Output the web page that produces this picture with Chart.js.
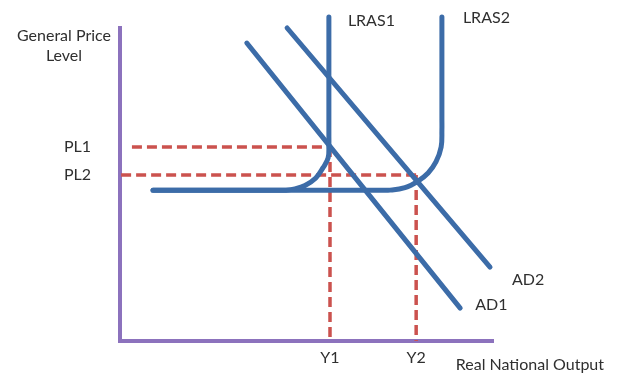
<!DOCTYPE html>
<html><head><meta charset="utf-8">
<script src="https://cdn.jsdelivr.net/npm/chart.js@4"></script>
<style>html,body{margin:0;padding:0;background:#fff}#wrap{width:619px;height:374px;position:relative}</style>
</head><body><div id="wrap"><canvas id="c"></canvas></div>
<script>
// Curves (x: real output, y: price level, 0-100 scale)
const lras1X = [8.85, 41.8, 44.5, 46.9, 49.6, 52.5, 54.4, 55.8, 56.0, 56.0, 56.0];
const lras1Y = [48.2, 48.2, 48.2, 48.6, 49.7, 52.1, 55.3, 58.5, 62.6, 65.8, 103.5];
const lras2X = [8.85, 69.2, 72.4, 76.4, 79.9, 82.6, 84.7, 86.1, 86.3, 86.3, 86.3];
const lras2Y = [48.2, 48.2, 48.2, 49.0, 51.1, 53.7, 57.2, 62.0, 67.4, 71.2, 103.5];
const ad1X = [34.0, 91.2];
const ad1Y = [95.2, 10.5];
const ad2X = [44.8, 99.2];
const ad2Y = [100.0, 23.6];
// Equilibrium levels
const priceLevels = [62.0, 53.0];
const priceLabels = ['PL1', 'PL2'];
const outputLevels = [56.3, 79.4];
const outputLabels = ['Y1', 'Y2'];
const dashStartX = [3.2, 0.3];
const curveNames = ['LRAS1', 'LRAS2', 'AD1', 'AD2'];
const yTitle = ['General Price', 'Level'];
const xTitle = 'Real National Output';

const BLUE = '#3c6ca8', RED = '#cb524e', PURPLE = '#8c72bd', TEXT = '#2f2f2f';
const FONT = '16px Lato';

const pts = (xs, ys) => xs.map((x, i) => ({x, y: ys[i]}));
const curve = (label, xs, ys) => ({label, data: pts(xs, ys), borderColor: BLUE, borderWidth: 5,
  tension: 0.4, pointRadius: 0, showLine: true, clip: false, borderCapStyle: 'round', borderJoinStyle: 'round'});
const dashed = (data) => ({data, borderColor: RED, borderWidth: 3.5, borderDash: [10, 5],
  tension: 0, pointRadius: 0, showLine: true, clip: false, borderCapStyle: 'butt'});

const datasets = [
  curve(curveNames[0], lras1X, lras1Y),
  curve(curveNames[1], lras2X, lras2Y),
  curve(curveNames[2], ad1X, ad1Y),
  curve(curveNames[3], ad2X, ad2Y),
  dashed([{x: dashStartX[0], y: priceLevels[0]}, {x: outputLevels[0], y: priceLevels[0]}]),
  dashed([{x: dashStartX[1], y: priceLevels[1]}, {x: outputLevels[1], y: priceLevels[1]}]),
  dashed([{x: outputLevels[0], y: priceLevels[0]}, {x: outputLevels[0], y: 0}]),
  dashed([{x: outputLevels[1], y: priceLevels[1]}, {x: outputLevels[1], y: 0}])
];

const textPlugin = {
  id: 'texts',
  afterDraw(chart) {
    const ctx = chart.ctx, xs = chart.scales.x, ys = chart.scales.y;
    ctx.save();
    ctx.fillStyle = TEXT;
    ctx.font = FONT;
    ctx.textBaseline = 'middle';
    const at = (name, x, y, dx, dy) => {
      ctx.textAlign = 'left';
      ctx.fillText(name, xs.getPixelForValue(x) + dx, ys.getPixelForValue(y) + dy);
    };
    at(curveNames[0], lras1X[lras1X.length - 1], lras1Y[lras1Y.length - 1], 19, 4);
    at(curveNames[1], lras2X[lras2X.length - 1], lras2Y[lras2Y.length - 1], 21, 1);
    at(curveNames[2], ad1X[1], ad1Y[1], 15, -3);
    at(curveNames[3], ad2X[1], ad2Y[1], 22, 13);
    ctx.textAlign = 'center';
    ctx.fillText(yTitle[0], 64, 36);
    ctx.fillText(yTitle[1], 64, 56);
    ctx.textAlign = 'right';
    ctx.fillText(xTitle, 604, 365);
    ctx.restore();
  }
};

new Chart(document.getElementById('c'), {
  type: 'scatter',
  data: {datasets},
  options: {
    responsive: true, maintainAspectRatio: false, animation: false,
    layout: {padding: {left: 0, top: 28, right: 126, bottom: 0}},
    plugins: {legend: {display: false}, tooltip: {enabled: false}},
    scales: {
      x: {
        type: 'linear', min: 0, max: 100,
        afterFit: s => { s.height = 33; s.paddingLeft = 0; s.paddingRight = 0; s.paddingTop = 0; s.paddingBottom = 0; },
        afterBuildTicks: s => { s.ticks = outputLevels.map(v => ({value: v})); },
        grid: {display: false, drawTicks: false},
        border: {display: true, color: PURPLE, width: 4},
        ticks: {autoSkip: false, maxRotation: 0, padding: 7, color: TEXT, font: {family: 'Lato', size: 16},
          callback: (v, i) => outputLabels[i]}
      },
      y: {
        type: 'linear', min: 0, max: 100,
        afterFit: s => { s.width = 120; s.paddingLeft = 0; s.paddingRight = 0; s.paddingTop = 0; s.paddingBottom = 0; },
        afterBuildTicks: s => { s.ticks = priceLevels.map(v => ({value: v})); },
        grid: {display: false, drawTicks: false},
        border: {display: true, color: PURPLE, width: 4},
        ticks: {autoSkip: false, padding: 29, color: TEXT, font: {family: 'Lato', size: 16},
          callback: (v, i) => priceLabels[i]}
      }
    }
  },
  plugins: [textPlugin]
});
</script>
</body></html>
